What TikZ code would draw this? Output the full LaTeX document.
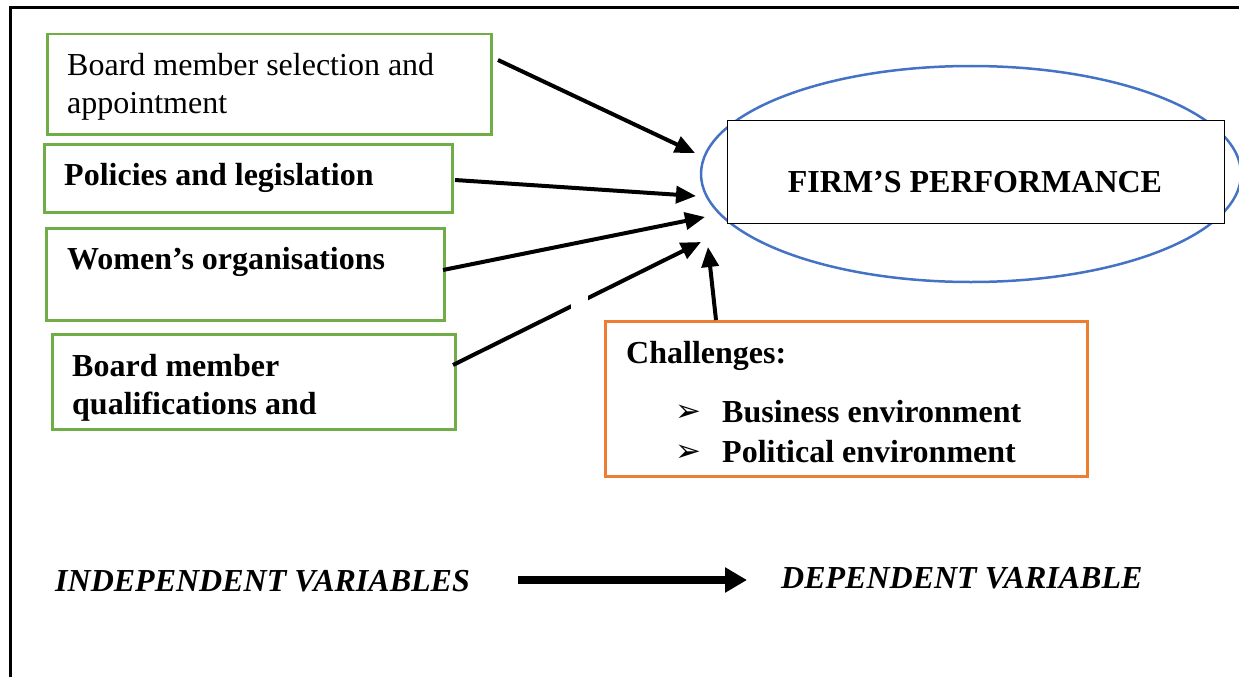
\documentclass[tikz,border=0pt]{standalone}
\usepackage{fontspec}
\setmainfont{Liberation Serif}
\newfontfamily\dingfont{DejaVu Sans}
\usetikzlibrary{arrows.meta,shapes.geometric}
\definecolor{grn}{RGB}{112,173,71}
\definecolor{blu}{RGB}{68,114,196}
\definecolor{org}{RGB}{237,125,49}
\begin{document}
\begin{tikzpicture}[x=1pt,y=-1pt,
  gbox/.style={draw=grn, line width=2.5pt, inner sep=0, anchor=north west},
  obox/.style={draw=org, line width=2.5pt, inner sep=0, anchor=north west},
  txt/.style={anchor=base west, inner sep=0, font=\fontsize{32}{39}\selectfont},
  btxt/.style={anchor=base west, inner sep=0, font=\fontsize{32}{39}\selectfont\bfseries},
  bitxt/.style={anchor=base west, inner sep=0, font=\fontsize{32}{39}\selectfont\bfseries\itshape},
  bul/.style={anchor=base west, inner sep=0, font=\fontsize{31}{36}\dingfont},
  conn/.style={line width=4pt, -{Triangle[length=20pt,width=17pt]}},
  bigconn/.style={line width=8pt, -{Triangle[length=22pt,width=24pt]}},
]
\useasboundingbox (0,0) rectangle (1239,677);
% frame
\draw[line width=3pt] (10,677) -- (10,8) -- (1239,8);

% left boxes
\node[gbox, minimum width=444pt, minimum height=100pt] (b1) at (46,33) {};
\node[txt] (b1a) at (67,75) {Board member selection and};
\node[txt] (b1b) at (67,113) {appointment};

\node[gbox, minimum width=408pt, minimum height=68pt] (b2) at (43,143) {};
\node[btxt] (b2a) at (64,185) {Policies and legislation};

\node[gbox, minimum width=398pt, minimum height=92pt] (b3) at (45,227) {};
\node[btxt] (b3a) at (67,269) {Women’s organisations};

\node[gbox, minimum width=403pt, minimum height=95pt] (b4) at (51,333) {};
\node[btxt] (b4a) at (72,376) {Board member};
\node[btxt] (b4b) at (72,414) {qualifications and};

% ellipse and firm box
\node[draw=blu, line width=2.5pt, ellipse, inner sep=0, minimum width=540pt, minimum height=216pt] (ell) at (971,174) {};
\node[draw, line width=1.3pt, fill=white, inner sep=0, anchor=north west, minimum width=497pt, minimum height=103pt] (firm) at (727,120) {};
\node[btxt, anchor=base] (firmt) at (975,192) {FIRM’S PERFORMANCE};

% challenges
\node[obox, minimum width=482pt, minimum height=155pt] (ch) at (604,320) {};
\node[btxt] (cht) at (626,363) {Challenges:};
\node[bul] (bul1) at (675,421) {➢};
\node[btxt] (ch1) at (722,422) {Business environment};
\node[bul] (bul2) at (675,461) {➢};
\node[btxt] (ch2) at (722,462) {Political environment};

% arrow coordinates
\coordinate (s1) at (498,60);   \coordinate (t1) at (695,153);
\coordinate (s2) at (455,180);  \coordinate (t2) at (696,196);
\coordinate (s3) at (443,270);  \coordinate (t3) at (705,217);
\coordinate (s4) at (453,365);  \coordinate (t4) at (701,242);
\coordinate (s5) at (716,320);  \coordinate (t5) at (708,247);

\draw[conn] (s1) -- (t1);
\draw[conn] (s2) -- (t2);
\draw[conn] (s3) -- (t3);
\draw[conn] (s4) -- (t4);
\fill[white] (571,283) rectangle (588,318);
\draw[conn] (s5) -- (t5);

% bottom legend
\node[bitxt] (iv) at (55,591) {INDEPENDENT VARIABLES};
\node[bitxt] (dv) at (781,588) {DEPENDENT VARIABLE};
\coordinate (ls) at (518,580);
\coordinate (le) at (747,580);
\draw[bigconn] (ls) -- (le);
\end{tikzpicture}
\end{document}
